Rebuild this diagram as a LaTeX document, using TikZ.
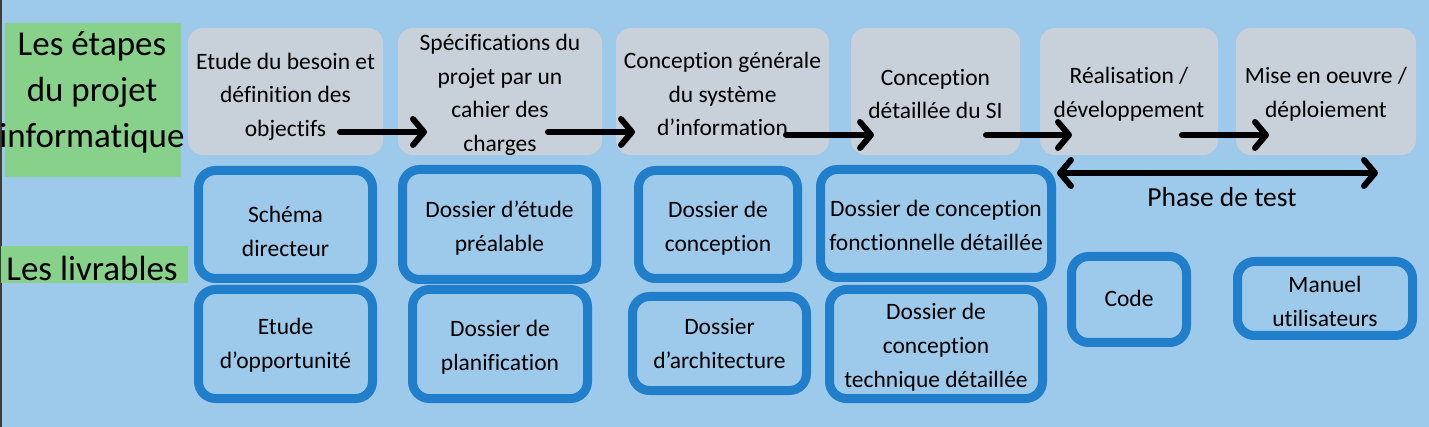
\documentclass[tikz,border=0pt]{standalone}
\usepackage{fontspec}
\setmainfont{Carlito}[Ligatures=NoCommon]
\usetikzlibrary{arrows.meta}
\definecolor{bgblue}{RGB}{157,202,235}
\definecolor{lgreen}{RGB}{136,209,138}
\definecolor{lgray}{RGB}{200,208,218}
\definecolor{dblue}{RGB}{32,126,202}
\definecolor{edge}{RGB}{60,60,60}
\tikzset{
  gbox/.style={fill=lgray, rounded corners=15pt, inner sep=0pt},
  gtext/.style={inner sep=0pt, align=center, font=\fontsize{23.5}{33.5}\selectfont},
  bbox/.style={draw=dblue, line width=9pt, rounded corners=17pt, inner sep=0pt},
  btext/.style={inner sep=0pt, align=center, font=\fontsize{23.5}{34}\selectfont},
  greenlab/.style={fill=lgreen, inner sep=0pt},
  bigtext/.style={inner sep=0pt, align=center, font=\fontsize{35}{46}\selectfont},
  flow/.style={line width=6pt, line cap=round,
    -{Straight Barb[length=11pt,width=26pt,round]}},
  both/.style={line width=6pt, line cap=round,
    {Straight Barb[length=11pt,width=26pt,round]}-{Straight Barb[length=11pt,width=26pt,round]}},
}
\begin{document}
\begin{tikzpicture}[x=1pt,y=-1pt]
\fill[bgblue] (0,0) rectangle (1429,427);
\useasboundingbox (0,0) rectangle (1429,427);
\fill[edge] (0,0) rectangle (1.5,427);

% green labels
\node[greenlab, minimum width=176pt, minimum height=154pt] (g1) at (93,100) {};
\node[bigtext] (g1t) at (92,92) {Les étapes\\du projet\\informatique};
\node[greenlab, minimum width=187pt, minimum height=37pt] (g2) at (94.5,264.5) {};
\node[bigtext] (g2t) at (92,268) {Les livrables};

% gray steps
\node[gbox, minimum width=195pt, minimum height=127pt] (s1) at (285.5,91.5) {};
\node[gbox, minimum width=204pt, minimum height=127pt] (s2) at (500,91.5) {};
\node[gbox, minimum width=213pt, minimum height=127pt] (s3) at (722.5,91.5) {};
\node[gbox, minimum width=169pt, minimum height=127pt] (s4) at (935.5,91.5) {};
\node[gbox, minimum width=178pt, minimum height=127pt] (s5) at (1129,91.5) {};
\node[gbox, minimum width=180pt, minimum height=127pt] (s6) at (1326,91.5) {};
\node[gtext] (s1t) at (285.5,96.5) {Etude du besoin et\\définition des\\objectifs};
\node[gtext] (s2t) at (500,95) {Spécifications du\\projet par un\\cahier des\\charges};
\node[gtext] (s3t) at (722.5,94) {Conception générale\\du système\\d’information};
\node[gtext] (s4t) at (935.5,94) {Conception\\détaillée du SI};
\node[gtext] (s5t) at (1129,94) {Réalisation /\\développement};
\node[gtext] (s6t) at (1326,94) {Mise en oeuvre /\\déploiement};

% arrows between steps
\coordinate (a1s) at (340,132); \coordinate (a1e) at (427,132);
\coordinate (a2s) at (548,132); \coordinate (a2e) at (635,132);
\coordinate (a3s) at (786,135); \coordinate (a3e) at (874,135);
\coordinate (a4s) at (986,135); \coordinate (a4e) at (1072,135);
\coordinate (a5s) at (1182,135); \coordinate (a5e) at (1269,135);
\draw[flow] (a1s) -- (a1e);
\draw[flow] (a2s) -- (a2e);
\draw[flow] (a3s) -- (a3e);
\draw[flow] (a4s) -- (a4e);
\draw[flow] (a5s) -- (a5e);

% test phase
\coordinate (t1) at (1057,173); \coordinate (t2) at (1378,173);
\draw[both] (t1) -- (t2);
\node[font=\fontsize{27.5}{30}\selectfont, inner sep=0pt] (pt) at (1222,197) {Phase de test};

% deliverables
\node[bbox, minimum width=174pt, minimum height=108pt] (b1) at (285.5,224.5) {};
\node[bbox, minimum width=194pt, minimum height=110pt] (b2) at (499.5,224.5) {};
\node[bbox, minimum width=159pt, minimum height=108pt] (b3) at (718,224.5) {};
\node[bbox, minimum width=231pt, minimum height=108pt] (b4) at (936,223.5) {};
\node[bbox, minimum width=174pt, minimum height=109pt] (b5) at (285.5,344) {};
\node[bbox, minimum width=175pt, minimum height=109pt] (b6) at (500,344) {};
\node[bbox, minimum width=174pt, minimum height=94pt] (b7) at (719.5,343.5) {};
\node[bbox, minimum width=213pt, minimum height=109pt] (b8) at (936,344) {};
\node[bbox, minimum width=115pt, minimum height=86pt] (b9) at (1129,299.5) {};
\node[bbox, minimum width=175pt, minimum height=74pt] (b10) at (1325,298.5) {};
\node[btext] (b1t) at (285.5,231.5) {Schéma\\directeur};
\node[btext] (b2t) at (499.5,228.5) {Dossier d’étude\\préalable};
\node[btext] (b3t) at (718,228.5) {Dossier de\\conception};
\node[btext] (b4t) at (936,225) {Dossier de conception\\fonctionnelle détaillée};
\node[btext] (b5t) at (285.5,345) {Etude\\d’opportunité};
\node[btext] (b6t) at (500,347) {Dossier de\\planification};
\node[btext] (b7t) at (719.5,344) {Dossier\\d’architecture};
\node[btext] (b8t) at (936,347) {Dossier de\\conception\\technique détaillée};
\node[btext] (b9t) at (1129,298) {Code};
\node[btext] (b10t) at (1325,301) {Manuel\\utilisateurs};
\end{tikzpicture}
\end{document}
